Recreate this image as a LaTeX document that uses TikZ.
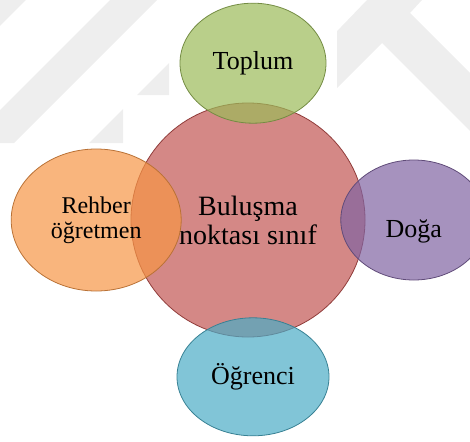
\documentclass[tikz,border=0pt]{standalone}
\usepackage{fontspec}
\setmainfont{Liberation Serif}
\usetikzlibrary{positioning,shapes.geometric}
\definecolor{hubred}{RGB}{192,80,77}
\definecolor{satgreen}{RGB}{155,187,89}
\definecolor{satorange}{RGB}{247,150,70}
\definecolor{satpurple}{RGB}{128,100,162}
\definecolor{satblue}{RGB}{75,172,198}
\definecolor{wmgray}{RGB}{238,238,238}

\begin{document}
\begin{tikzpicture}[x=1pt,y=-1pt]
	\tikzset{hub/.style={circle, draw=#1!75!black, line width=.8pt, fill=#1, fill opacity=.68, text opacity=1, minimum size=234pt, inner sep=0pt, align=center, font=\fontsize{28}{29}\selectfont},
		sat/.style={ellipse, draw=#1!75!black, line width=.8pt, fill=#1, fill opacity=.7, text opacity=1, inner sep=0pt, align=center, font=\fontsize{26}{27}\selectfont},
		wmark/.style={fill=wmgray}
	}
	\useasboundingbox (0,0) rectangle (470,441);
	% faint watermark behind the picture
	\begin{scope}
		\clip (0,0) -- (169,0) -- (169,95) -- (123,95) -- (123,143) -- (0,143) -- cycle;
		\fill[wmark] (0,0) -- (26,0) -- (0,26) -- cycle;
		\fill[wmark] (110,0) -- (157,0) -- (0,157) -- (0,110) -- cycle;
		\fill[wmark] (232,0) -- (275,0) -- (0,275) -- (0,232) -- cycle;
	\end{scope}
	\begin{scope}
		\clip (337,0) rectangle (470,150);
		\fill[wmark] (290,80) -- (367,0) -- (422,0) -- (410,13) -- (510,113) -- (510,171) -- (382,43) -- (290,135) -- cycle;
	\end{scope}
	\node [hub=hubred] (hub) at (248,220) {Buluşma\\noktası sınıf};
	\node [sat=satgreen, minimum width=146pt, minimum height=120pt, above=-21pt of hub, xshift=5pt] (toplum) {Toplum};
	\node [sat=satorange, minimum width=170pt, minimum height=142pt, left=-51pt of hub, font=\fontsize{24}{25}\selectfont] (rehber) {Rehber\\öğretmen};
	\node [sat=satpurple, minimum width=146pt, minimum height=120pt, right=-25pt of hub, text height=40pt, text depth=6pt] (doga) {Doğa};
	\node [sat=satblue, minimum width=152pt, minimum height=118pt, below=-20pt of hub, xshift=5pt] (ogrenci) {Öğrenci};
\end{tikzpicture}
\end{document}
